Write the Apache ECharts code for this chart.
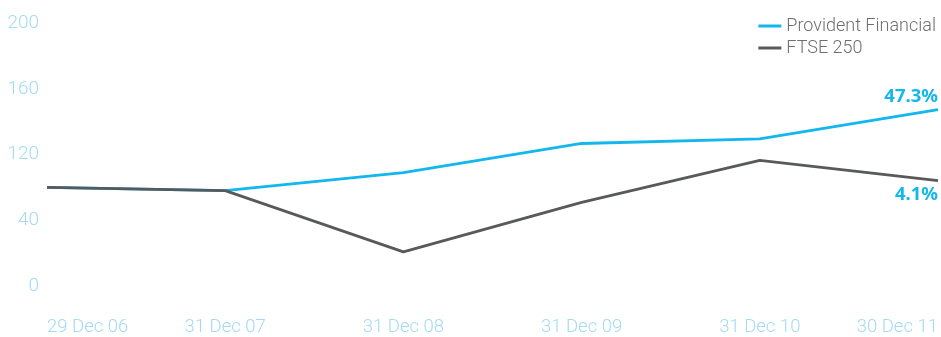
<!DOCTYPE html>
<html>
<head>
<meta charset="utf-8">
<script src="https://cdn.jsdelivr.net/npm/echarts@6/dist/echarts.min.js"></script>
<style>html,body{margin:0;padding:0;background:#fff}#c{width:941px;height:337px}</style>
</head>
<body>
<div id="c"></div>
<script>
var categories = ['29 Dec 06', '31 Dec 07', '31 Dec 08', '31 Dec 09', '31 Dec 10', '30 Dec 11'];
var providentValues = [100, 98, 109, 126.7, 129.5, 147.3];
var ftseValues = [100, 98, 60.8, 90.9, 116.4, 104.1];
var endLabels = ['47.3%', '4.1%'];
var yTickValues = [40, 80, 120, 160, 200];
var yTickLabels = ['0', '40', '120', '160', '200'];

var labelFont = "'Roboto', sans-serif";

function buildData(vals, label, pos) {
  return vals.map(function (v, i) {
    if (i === vals.length - 1) {
      return {
        value: v,
        label: {
          show: true, formatter: label, position: pos, align: 'right',
          color: '#12b7ec', fontWeight: 'bold', fontSize: 18.5,
          fontFamily: "'Noto Sans', sans-serif",
          distance: pos === 'top' ? 3 : 5
        }
      };
    }
    return v;
  });
}

var chart = echarts.init(document.getElementById('c'), null, {renderer: 'canvas'});
chart.setOption({
  animation: false,
  grid: {left: 47, right: 1, top: 23, bottom: 50, containLabel: false},
  legend: {
    right: 0, top: 12, orient: 'vertical', itemWidth: 23, itemHeight: 3, itemGap: 4,
    icon: 'rect',
    textStyle: {color: '#6d6e71', fontSize: 18, fontFamily: "'Roboto', sans-serif", fontWeight: 300},
    data: ['Provident Financial', 'FTSE 250']
  },
  xAxis: {
    type: 'category', data: categories, boundaryGap: false,
    axisLine: {show: false}, axisTick: {show: false}, splitLine: {show: false},
    axisLabel: {
      color: '#a3daf5', fontSize: 18.5, fontFamily: labelFont, fontWeight: 300, margin: 32,
      alignMinLabel: 'left', alignMaxLabel: 'right', interval: 0
    }
  },
  yAxis: {
    type: 'value', min: 40, max: 200, interval: 40,
    axisLine: {show: false}, axisTick: {show: false}, splitLine: {show: false},
    axisLabel: {
      color: '#a3daf5', fontSize: 19, fontFamily: labelFont, fontWeight: 300, margin: 8,
      formatter: function (v) {
        var i = yTickValues.indexOf(v);
        return i >= 0 ? yTickLabels[i] : '';
      }
    }
  },
  series: [
    {
      name: 'Provident Financial', type: 'line', data: buildData(providentValues, endLabels[0], 'top'),
      symbol: 'circle', symbolSize: 0.01, showSymbol: true,
      lineStyle: {color: '#12b7ec', width: 2.8}, itemStyle: {color: '#12b7ec'}
    },
    {
      name: 'FTSE 250', type: 'line', data: buildData(ftseValues, endLabels[1], 'bottom'),
      symbol: 'circle', symbolSize: 0.01, showSymbol: true,
      lineStyle: {color: '#58595b', width: 2.8}, itemStyle: {color: '#58595b'}
    }
  ]
});
</script>
</body>
</html>
